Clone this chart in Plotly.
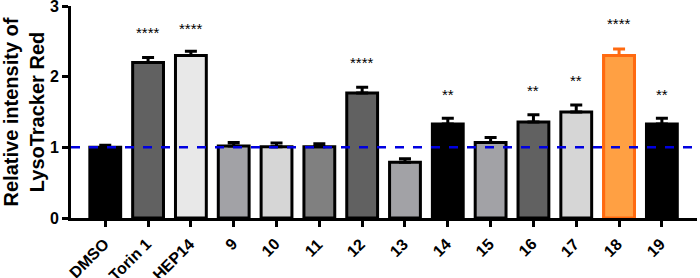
import plotly.graph_objects as go

categories = ["DMSO", "Torin 1", "HEP14", "9", "10", "11", "12", "13", "14", "15", "16", "17", "18", "19"]
values = [1.00, 2.20, 2.30, 1.02, 1.01, 1.01, 1.77, 0.79, 1.33, 1.07, 1.36, 1.50, 2.30, 1.33]
errors = [0.03, 0.07, 0.06, 0.05, 0.05, 0.04, 0.08, 0.05, 0.08, 0.07, 0.10, 0.10, 0.09, 0.08]
fill_colors = ["#000000", "#616161", "#e8e8e8", "#a2a2a6", "#d6d6d6", "#808080", "#616161",
               "#a2a2a6", "#000000", "#a2a2a6", "#616161", "#d6d6d6", "#ffa043", "#000000"]
edge_colors = ["#000000"] * 12 + ["#ff6a10", "#000000"]
sig_labels = ["", "****", "****", "", "", "", "****", "", "**", "", "**", "**", "****", "**"]
sig_y = [0, 2.62, 2.68, 0, 0, 0, 2.20, 0, 1.75, 0, 1.81, 1.95, 2.75, 1.75]
ref_value = 1.0

err_main = [e if c != "18" else 0 for c, e in zip(categories, errors)]

fig = go.Figure()
fig.add_trace(go.Bar(
    x=categories, y=values,
    marker=dict(color=fill_colors, line=dict(color=edge_colors, width=3)),
    width=0.72,
    error_y=dict(type="data", array=err_main, arrayminus=[0] * len(values), symmetric=False,
                 color="#000000", thickness=3, width=6),
    showlegend=False,
))
i18 = categories.index("18")
fig.add_trace(go.Bar(
    x=[categories[i18]], y=[values[i18]],
    marker=dict(color=fill_colors[i18], line=dict(color=edge_colors[i18], width=3)),
    width=0.72,
    error_y=dict(type="data", array=[errors[i18]], arrayminus=[0], symmetric=False,
                 color=edge_colors[i18], thickness=3, width=6),
    showlegend=False,
))

for i, (s, yv) in enumerate(zip(sig_labels, sig_y)):
    if s:
        fig.add_annotation(x=i, y=yv, text=s, showarrow=False, yanchor="middle",
                           font=dict(family="Liberation Sans, Arial", size=15, color="#000000"))

# rotated category labels
for i, c in enumerate(categories):
    fig.add_annotation(x=i, xref="x", y=-0.075, yref="paper", text="<b>%s</b>" % c,
                       showarrow=False, textangle=-45, xanchor="right", yanchor="top",
                       xshift=8, borderpad=0,
                       font=dict(family="Liberation Sans, Arial", size=16, color="#000000"))

fig.add_shape(type="line", xref="paper", yref="y", x0=0, x1=1, y0=ref_value, y1=ref_value,
              line=dict(color="#0000e0", width=2.5, dash="dash"), layer="above")

fig.update_layout(
    width=700, height=278,
    margin=dict(l=71, r=3, t=6, b=60),
    paper_bgcolor="white", plot_bgcolor="white",
    barmode="overlay",
    font=dict(family="Liberation Sans, Arial", color="#000000"),
    xaxis=dict(
        type="category", categoryorder="array", categoryarray=categories,
        range=[-0.8, 13.82], showline=True, linecolor="#000000", linewidth=3,
        ticks="outside", ticklen=6, tickwidth=3, tickcolor="#000000",
        showticklabels=False,
        showgrid=False, zeroline=False, automargin=False,
    ),
    yaxis=dict(
        range=[0, 3], tickvals=[0, 1, 2, 3], showline=True, linecolor="#000000", linewidth=3,
        ticks="outside", ticklen=6, tickwidth=3, tickcolor="#000000",
        tickfont=dict(size=16, family="Liberation Sans, Arial", weight="bold"),
        showgrid=False, zeroline=False, automargin=False, ticklabeloverflow="allow",
        title=dict(text="Relative intensity of<br>LysoTracker Red", standoff=8,
                   font=dict(size=20, family="Liberation Sans, Arial", weight="bold")),
    ),
)

fig.write_html("out.html", post_script="document.body.style.margin='0';",
               config={"displayModeBar": False})
